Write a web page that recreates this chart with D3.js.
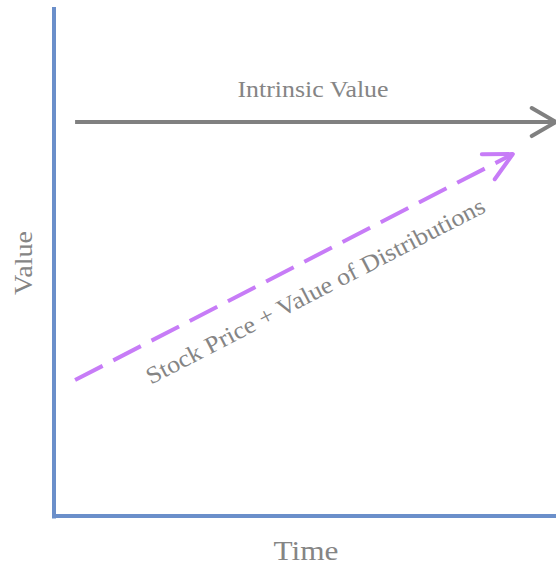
<!DOCTYPE html>
<html>
<head>
<meta charset="utf-8">
<script src="https://cdn.jsdelivr.net/npm/d3@7"></script>
<style>
  html, body { margin: 0; padding: 0; background: #fff; }
  svg { display: block; }
</style>
</head>
<body>
<svg id="chart" width="556" height="566"></svg>
<script>
// ---- data (normalised time / value units) ----
const intrinsicTime  = [0.042, 1.0];
const intrinsicValue = [0.774, 0.774];
const stockTime      = [0.042, 0.914];
const stockValue     = [0.267, 0.711];
const seriesLabels   = ["Intrinsic Value", "Stock Price + Value of Distributions"];
const axisLabels     = ["Time", "Value"];

const W = 556, H = 566;
const svg = d3.select("#chart");
const x = d3.scaleLinear().domain([0, 1]).range([54, 556]);
const y = d3.scaleLinear().domain([0, 1]).range([516, 7]);

const axisColor = "#6b8fca", grey = "#808080", purple = "#c77cf7", textGrey = "#858585";
const font = "Liberation Serif";

// axes
svg.append("line").attr("x1", x(0)).attr("x2", x(0)).attr("y1", y(1)).attr("y2", y(0) + 2.5)
  .attr("stroke", axisColor).attr("stroke-width", 4);
svg.append("line").attr("x1", x(0) - 2).attr("x2", x(1)).attr("y1", y(0)).attr("y2", y(0))
  .attr("stroke", axisColor).attr("stroke-width", 4);

const line = d3.line().x(d => x(d[0])).y(d => y(d[1]));

function arrowHead(t, v, angle, len, spread, color, width) {
  const tx = x(t[1]), ty = y(v[1]);
  const a1 = angle + Math.PI - spread, a2 = angle + Math.PI + spread;
  const pts = [[tx + len * Math.cos(a1), ty + len * Math.sin(a1)], [tx, ty],
               [tx + len * Math.cos(a2), ty + len * Math.sin(a2)]];
  svg.append("path").attr("d", d3.line()(pts)).attr("fill", "none")
    .attr("stroke", color).attr("stroke-width", width)
    .attr("stroke-linecap", "round").attr("stroke-linejoin", "round");
}

// intrinsic value arrow
const iPts = intrinsicTime.map((t, i) => [t, intrinsicValue[i]]);
svg.append("path").attr("d", line(iPts)).attr("fill", "none")
  .attr("stroke", grey).attr("stroke-width", 4);
arrowHead(intrinsicTime, intrinsicValue, 0, 28, Math.PI / 6, grey, 4);

// stock price arrow (dashed)
const sPts = stockTime.map((t, i) => [t, stockValue[i]]);
svg.append("path").attr("d", line(sPts)).attr("fill", "none")
  .attr("stroke", purple).attr("stroke-width", 4).attr("stroke-dasharray", "31,12");
const sAng = Math.atan2(y(stockValue[1]) - y(stockValue[0]), x(stockTime[1]) - x(stockTime[0]));
arrowHead(stockTime, stockValue, sAng, 31, 0.47, purple, 4);

// labels
svg.append("text").attr("x", 313).attr("y", 97).attr("text-anchor", "middle")
  .attr("font-family", font).attr("font-size", 23).attr("fill", textGrey)
  .attr("textLength", 151).attr("lengthAdjust", "spacingAndGlyphs")
  .text(seriesLabels[0]);

const deg = sAng * 180 / Math.PI;
svg.append("text").attr("transform", `translate(319,298) rotate(${deg})`)
  .attr("text-anchor", "middle").attr("font-family", font).attr("font-size", 24)
  .attr("fill", textGrey).attr("textLength", 378).attr("lengthAdjust", "spacingAndGlyphs")
  .text(seriesLabels[1]);

svg.append("text").attr("x", 306).attr("y", 560).attr("text-anchor", "middle")
  .attr("font-family", font).attr("font-size", 28).attr("fill", textGrey)
  .attr("textLength", 65).attr("lengthAdjust", "spacingAndGlyphs")
  .text(axisLabels[0]);

svg.append("text").attr("transform", "translate(32,263) rotate(-90)")
  .attr("text-anchor", "middle").attr("font-family", font).attr("font-size", 26)
  .attr("fill", textGrey).attr("textLength", 64).attr("lengthAdjust", "spacingAndGlyphs")
  .text(axisLabels[1]);
</script>
</body>
</html>
